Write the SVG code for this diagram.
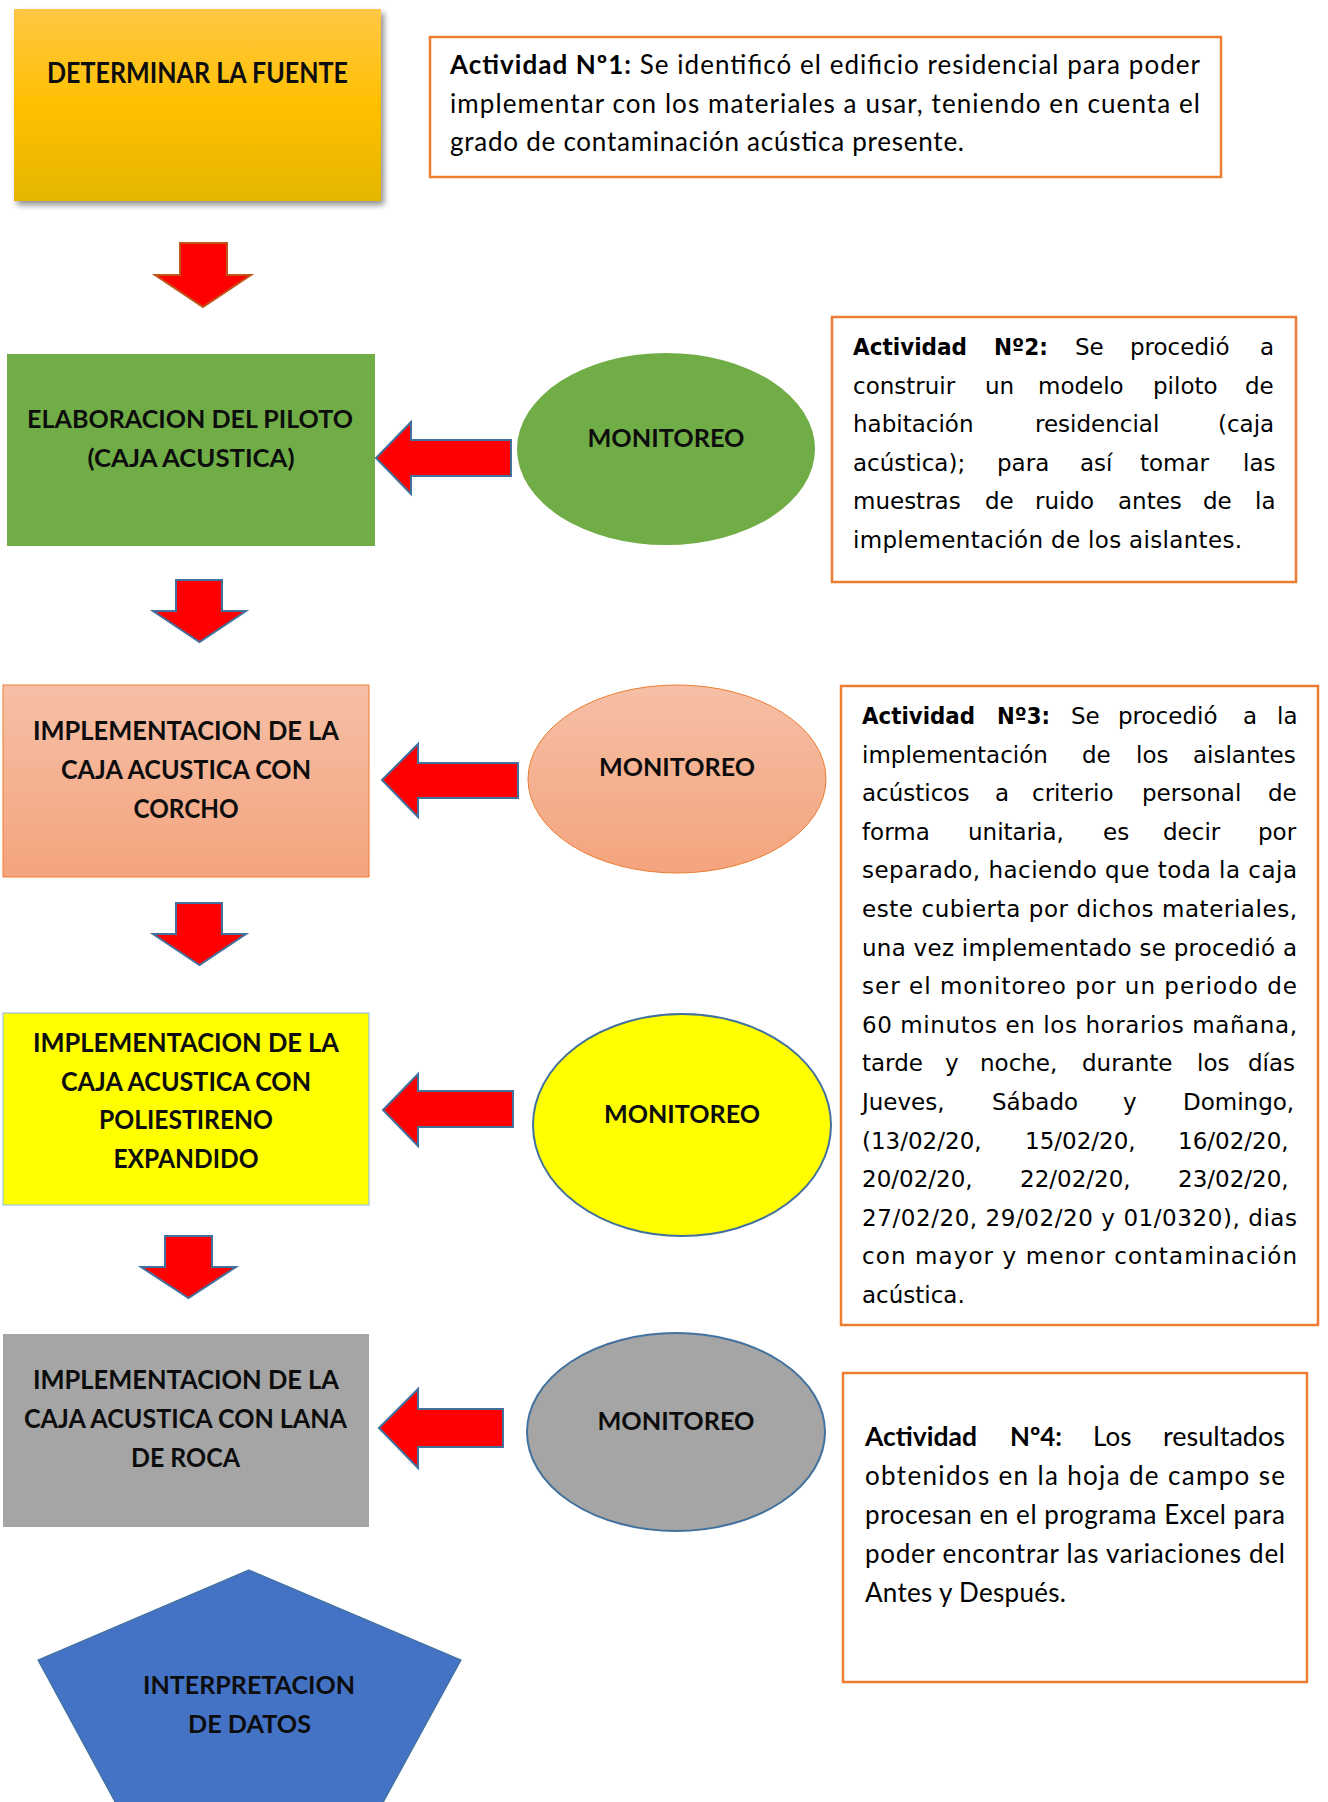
<svg xmlns="http://www.w3.org/2000/svg" width="1328" height="1802" viewBox="0 0 1328 1802">
<defs>
<style>
.nt{font-family:Lato,"Open Sans",sans-serif;font-weight:700;fill:#0d0d0d;text-anchor:middle;}
.act{fill:#fff;stroke:#ED7D31;stroke-width:2.5;}
.cal{font-family:Lato,"Open Sans",sans-serif;font-size:26px;fill:#000;}
.cal4{font-family:Lato,"Open Sans",sans-serif;font-size:26px;fill:#000;}
.dv{font-family:"DejaVu Sans",sans-serif;font-size:23px;fill:#000;}
.b{font-weight:700;}
.arr{fill:#FF0000;stroke:#41719C;stroke-width:2;}
</style>
<linearGradient id="gGold" x1="0" y1="0" x2="0" y2="1">
<stop offset="0" stop-color="#FFC746"/>
<stop offset="0.5" stop-color="#FFC000"/>
<stop offset="1" stop-color="#E5B600"/>
</linearGradient>
<linearGradient id="gSalmon" x1="0" y1="0" x2="0" y2="1">
<stop offset="0" stop-color="#F6BFA6"/>
<stop offset="1" stop-color="#F4A47E"/>
</linearGradient>
<filter id="shadow" x="-10%" y="-10%" width="130%" height="130%">
<feGaussianBlur in="SourceAlpha" stdDeviation="3"/>
<feOffset dx="3" dy="4" result="b"/>
<feComponentTransfer><feFuncA type="linear" slope="0.45"/></feComponentTransfer>
<feMerge><feMergeNode/><feMergeNode in="SourceGraphic"/></feMerge>
</filter>
</defs>
<rect width="1328" height="1802" fill="#fff"/>

<g id="connectors">
<polygon points="180,243 227,243 227,275 251,275 203,307 155,275 180,275" fill="#FF0000" stroke="#C0561C" stroke-width="2"/>
<polygon class="arr" points="176,580 222,580 222,611 246,611 199.5,642 153,611 176,611"/>
<polygon class="arr" points="176,903 222,903 222,934 246,934 199.5,965 153,934 176,934"/>
<polygon class="arr" points="165,1236 212,1236 212,1267 236,1267 188.5,1298 141,1267 165,1267"/>
<polygon class="arr" points="376,458 411,422 411,440 511,440 511,476 411,476 411,494"/>
<polygon class="arr" points="382,780 418,744 418,763 518,763 518,798 418,798 418,817"/>
<polygon class="arr" points="383,1110 418,1074 418,1091 513,1091 513,1127 418,1127 418,1146"/>
<polygon class="arr" points="379,1428 418,1389 418,1409 503,1409 503,1447 418,1447 418,1468"/>
</g>

<g id="node-determinar">
<rect x="14" y="9" width="367" height="192" fill="url(#gGold)" filter="url(#shadow)"/>
<text class="nt" x="197.5" y="83" font-size="28" textLength="301" lengthAdjust="spacingAndGlyphs">DETERMINAR LA FUENTE</text>
</g>

<g id="node-actividad1">
<rect class="act" x="430" y="37" width="791" height="140"/>
<text class="cal" x="450" y="74" textLength="750" lengthAdjust="spacing"><tspan class="b">Actividad Nº1:</tspan> Se identificó el edificio residencial para poder</text>
<text class="cal" x="450" y="113" textLength="750" lengthAdjust="spacing">implementar con los materiales a usar, teniendo en cuenta el</text>
<text class="cal" x="450" y="151" textLength="514" lengthAdjust="spacing">grado de contaminación acústica presente.</text>
</g>

<g id="node-piloto">
<rect x="7" y="354" width="368" height="192" fill="#70AD47"/>
<text class="nt" x="190" y="428" font-size="25" textLength="326" lengthAdjust="spacingAndGlyphs">ELABORACION DEL PILOTO</text>
<text class="nt" x="191" y="467" font-size="25" textLength="207" lengthAdjust="spacingAndGlyphs">(CAJA ACUSTICA)</text>
</g>

<g id="node-monitoreo1">
<ellipse cx="666" cy="449" rx="149" ry="96" fill="#70AD47"/>
<text class="nt" x="666" y="447" font-size="25" textLength="157" lengthAdjust="spacingAndGlyphs">MONITOREO</text>
</g>

<g id="node-actividad2">
<rect class="act" x="832" y="317" width="464" height="265"/>
<text class="dv" y="355"><tspan class="b" x="853" textLength="114" lengthAdjust="spacingAndGlyphs">Actividad</tspan><tspan class="b" x="994" textLength="54" lengthAdjust="spacingAndGlyphs">Nº2:</tspan><tspan x="1075">Se</tspan><tspan x="1130">procedió</tspan><tspan x="1260">a</tspan></text>
<text class="dv" y="393.5"><tspan x="853">construir</tspan><tspan x="985">un</tspan><tspan x="1038">modelo</tspan><tspan x="1153">piloto</tspan><tspan x="1245">de</tspan></text>
<text class="dv" y="432"><tspan x="853">habitación</tspan><tspan x="1035">residencial</tspan><tspan x="1218">(caja</tspan></text>
<text class="dv" y="470.5"><tspan x="853">acústica);</tspan><tspan x="997">para</tspan><tspan x="1080">así</tspan><tspan x="1140">tomar</tspan><tspan x="1243">las</tspan></text>
<text class="dv" y="509"><tspan x="853">muestras</tspan><tspan x="985">de</tspan><tspan x="1035">ruido</tspan><tspan x="1118">antes</tspan><tspan x="1203">de</tspan><tspan x="1255">la</tspan></text>
<text class="dv" x="853" y="547.5" textLength="389" lengthAdjust="spacing">implementación de los aislantes.</text>
</g>

<g id="node-corcho">
<rect x="3" y="685" width="366" height="192" fill="url(#gSalmon)" stroke="#ED7D31" stroke-width="1"/>
<text class="nt" x="186" y="740" font-size="26" textLength="306" lengthAdjust="spacingAndGlyphs">IMPLEMENTACION DE LA</text>
<text class="nt" x="186" y="779" font-size="26" textLength="250" lengthAdjust="spacingAndGlyphs">CAJA ACUSTICA CON</text>
<text class="nt" x="186" y="818" font-size="26" textLength="105" lengthAdjust="spacingAndGlyphs">CORCHO</text>
</g>

<g id="node-monitoreo2">
<ellipse cx="677" cy="779" rx="149" ry="94" fill="url(#gSalmon)" stroke="#ED7D31" stroke-width="1"/>
<text class="nt" x="677" y="776" font-size="25" textLength="156" lengthAdjust="spacingAndGlyphs">MONITOREO</text>
</g>

<g id="node-actividad3">
<rect class="act" x="841" y="686" width="477" height="639"/>
<text class="dv" y="724"><tspan class="b" x="862" textLength="113" lengthAdjust="spacingAndGlyphs">Actividad</tspan><tspan class="b" x="997" textLength="53" lengthAdjust="spacingAndGlyphs">Nº3:</tspan><tspan x="1071">Se</tspan><tspan x="1118">procedió</tspan><tspan x="1243">a</tspan><tspan x="1277">la</tspan></text>
<text class="dv" y="762.6"><tspan x="862">implementación</tspan><tspan x="1082">de</tspan><tspan x="1136">los</tspan><tspan x="1193">aislantes</tspan></text>
<text class="dv" y="801.2"><tspan x="862">acústicos</tspan><tspan x="995">a</tspan><tspan x="1032">criterio</tspan><tspan x="1142">personal</tspan><tspan x="1268">de</tspan></text>
<text class="dv" y="839.8"><tspan x="862">forma</tspan><tspan x="968">unitaria,</tspan><tspan x="1103">es</tspan><tspan x="1163">decir</tspan><tspan x="1258">por</tspan></text>
<text class="dv" x="862" y="878.4" textLength="435" lengthAdjust="spacing">separado, haciendo que toda la caja</text>
<text class="dv" x="862" y="917" textLength="435" lengthAdjust="spacing">este cubierta por dichos materiales,</text>
<text class="dv" x="862" y="955.6" textLength="435" lengthAdjust="spacing">una vez implementado se procedió a</text>
<text class="dv" x="862" y="994.2" textLength="435" lengthAdjust="spacing">ser el monitoreo por un periodo de</text>
<text class="dv" x="862" y="1032.8" textLength="435" lengthAdjust="spacing">60 minutos en los horarios mañana,</text>
<text class="dv" y="1071.4"><tspan x="862">tarde</tspan><tspan x="945">y</tspan><tspan x="980">noche,</tspan><tspan x="1082">durante</tspan><tspan x="1197">los</tspan><tspan x="1248">días</tspan></text>
<text class="dv" y="1110"><tspan x="862">Jueves,</tspan><tspan x="992">Sábado</tspan><tspan x="1123">y</tspan><tspan x="1183">Domingo,</tspan></text>
<text class="dv" y="1148.6"><tspan x="862">(13/02/20,</tspan><tspan x="1025">15/02/20,</tspan><tspan x="1178">16/02/20,</tspan></text>
<text class="dv" y="1187.2"><tspan x="862">20/02/20,</tspan><tspan x="1020">22/02/20,</tspan><tspan x="1178">23/02/20,</tspan></text>
<text class="dv" x="862" y="1225.8" textLength="435" lengthAdjust="spacing">27/02/20, 29/02/20 y 01/0320), dias</text>
<text class="dv" x="862" y="1264.4" textLength="435" lengthAdjust="spacing">con mayor y menor contaminación</text>
<text class="dv" x="862" y="1303">acústica.</text>
</g>

<g id="node-poliestireno">
<rect x="3" y="1013" width="366" height="192" fill="#FFFF00" stroke="#9DC3E6" stroke-width="1.2"/>
<text class="nt" x="186" y="1052" font-size="26" textLength="306" lengthAdjust="spacingAndGlyphs">IMPLEMENTACION DE LA</text>
<text class="nt" x="186" y="1091" font-size="26" textLength="250" lengthAdjust="spacingAndGlyphs">CAJA ACUSTICA CON</text>
<text class="nt" x="186" y="1129" font-size="26" textLength="174" lengthAdjust="spacingAndGlyphs">POLIESTIRENO</text>
<text class="nt" x="186" y="1168" font-size="26" textLength="145" lengthAdjust="spacingAndGlyphs">EXPANDIDO</text>
</g>

<g id="node-monitoreo3">
<ellipse cx="682" cy="1125" rx="149" ry="111" fill="#FFFF00" stroke="#41719C" stroke-width="2"/>
<text class="nt" x="682" y="1123" font-size="25" textLength="156" lengthAdjust="spacingAndGlyphs">MONITOREO</text>
</g>

<g id="node-lana">
<rect x="3" y="1334" width="366" height="193" fill="#A5A5A5"/>
<text class="nt" x="186" y="1389" font-size="26" textLength="306" lengthAdjust="spacingAndGlyphs">IMPLEMENTACION DE LA</text>
<text class="nt" x="185.5" y="1428" font-size="26" textLength="323" lengthAdjust="spacingAndGlyphs">CAJA ACUSTICA CON LANA</text>
<text class="nt" x="185.5" y="1467" font-size="26" textLength="109" lengthAdjust="spacingAndGlyphs">DE ROCA</text>
</g>

<g id="node-monitoreo4">
<ellipse cx="676" cy="1432" rx="149" ry="99" fill="#A5A5A5" stroke="#41719C" stroke-width="2"/>
<text class="nt" x="676" y="1430" font-size="25" textLength="157" lengthAdjust="spacingAndGlyphs">MONITOREO</text>
</g>

<g id="node-actividad4">
<rect class="act" x="843" y="1373" width="464" height="309"/>
<text class="cal4" y="1446"><tspan class="b" x="865" textLength="112" lengthAdjust="spacingAndGlyphs">Actividad</tspan><tspan class="b" x="1010" textLength="52" lengthAdjust="spacingAndGlyphs">Nº4:</tspan><tspan x="1093">Los</tspan><tspan x="1163" textLength="122" lengthAdjust="spacingAndGlyphs">resultados</tspan></text>
<text class="cal4" x="865" y="1485" textLength="420" lengthAdjust="spacing">obtenidos en la hoja de campo se</text>
<text class="cal4" x="865" y="1524" textLength="420" lengthAdjust="spacing">procesan en el programa Excel para</text>
<text class="cal4" x="865" y="1563" textLength="420" lengthAdjust="spacing">poder encontrar las variaciones del</text>
<text class="cal4" x="865" y="1602" textLength="201" lengthAdjust="spacing">Antes y Después.</text>
</g>

<g id="node-interpretacion">
<polygon points="249,1570 461,1660 327,1905 171,1905 38,1660" fill="#4472C4" stroke="#41719C" stroke-width="1.2"/>
<text class="nt" x="249" y="1694" font-size="24" textLength="212" lengthAdjust="spacingAndGlyphs">INTERPRETACION</text>
<text class="nt" x="249.5" y="1733" font-size="24" textLength="123" lengthAdjust="spacingAndGlyphs">DE DATOS</text>
</g>
</svg>
